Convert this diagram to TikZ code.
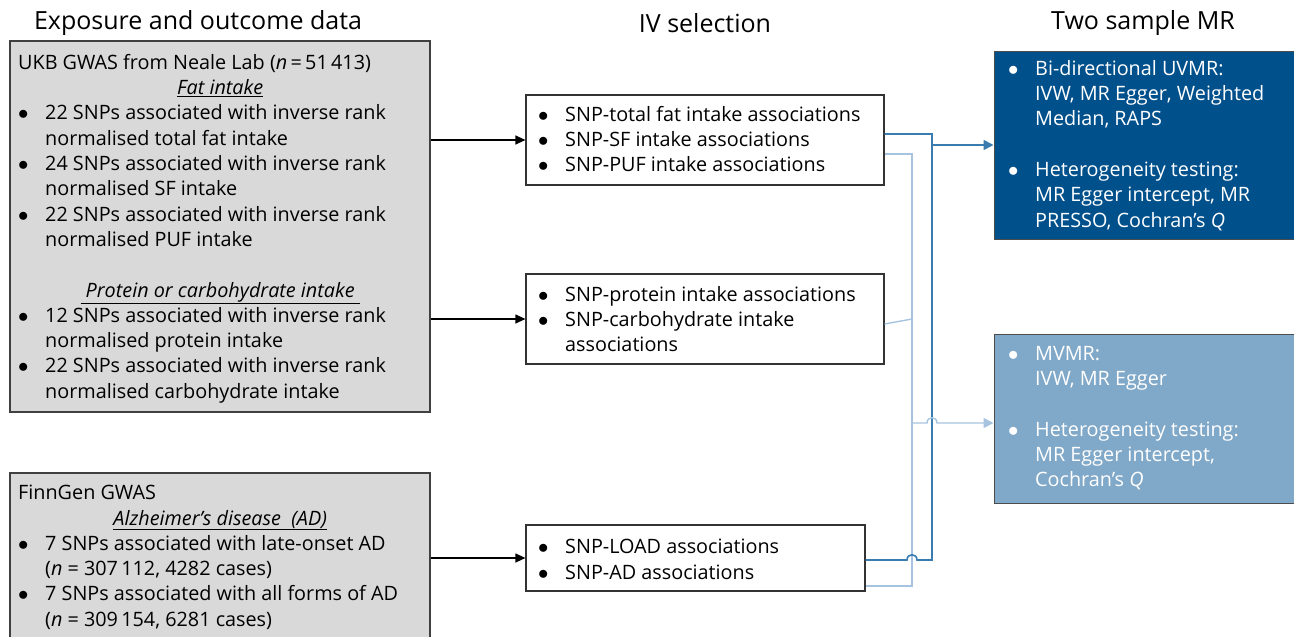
\documentclass[tikz,border=0pt]{standalone}
\usepackage{fontspec}
\setmainfont{Open Sans}
\usetikzlibrary{fit,arrows.meta}
\definecolor{darkmr}{HTML}{00508C}
\definecolor{lightmr}{HTML}{80A8C8}
\definecolor{darkline}{HTML}{3A7BB0}
\definecolor{lightline}{HTML}{A6C4DF}
\definecolor{boxgray}{HTML}{D9D9D9}
\newcommand{\bl}[1]{\makebox[27pt][l]{$\bullet$}#1}
\newcommand{\ct}[1]{\hspace*{27pt}#1}
\newcommand{\hd}[1]{\makebox[404pt][c]{\underline{\textit{#1}}}}
\begin{document}
\begin{tikzpicture}[x=1pt,y=-1pt,
  every node/.style={inner sep=0pt, font=\fontsize{19.8}{25.3}\selectfont},
  databox/.style={draw=black!75, line width=1.3pt, fill=boxgray},
  ivbox/.style={draw=black!80, line width=1.2pt, fill=white},
  mrbox/.style={draw=black!70, line width=1pt},
  txt/.style={anchor=north west, align=left},
  title/.style={font=\fontsize{25}{28}\selectfont},
  feed/.style={line width=1.2pt, -{Triangle[length=10pt,width=9pt]}},
  uvline/.style={draw=darkline, line width=1.6pt},
  mvline/.style={draw=lightline, line width=1.4pt}]
\useasboundingbox (0,0) rectangle (1294,637);
% Draw the column titles
\node[title] (t1) at (198,23) {Exposure and outcome data};
\node[title] (t2) at (705,23) {IV selection};
\node[title] (t3) at (1143,23) {Two sample MR};
% Draw the boxes
\node[databox, fit={(10,41)(430,412)}] (ukb) {};
\node[databox, fit={(10,473)(430,645)}] (finngen) {};
\node[ivbox, fit={(526,95)(884,185)}] (ivfat) {};
\node[ivbox, fit={(526,274)(884,364)}] (ivmacro) {};
\node[ivbox, fit={(526,525)(865,591)}] (ivad) {};
\node[mrbox, fill=darkmr, fit={(994,51)(1300,239)}] (uvmr) {};
\node[mrbox, fill=lightmr, fit={(994,334)(1300,503)}] (mvmr) {};
% Draw the texts
\node[txt] (ukbtext) at (18,54) {UKB GWAS from Neale Lab (\textit{n}\,=\,51\,413)\\
  \hd{Fat intake}\\
  \bl{22 SNPs associated with inverse rank}\\ \ct{normalised total fat intake}\\
  \bl{24 SNPs associated with inverse rank}\\ \ct{normalised SF intake}\\
  \bl{22 SNPs associated with inverse rank}\\ \ct{normalised PUF intake}\\[25.3pt]
  \hd{\ Protein or carbohydrate intake\ }\\
  \bl{12 SNPs associated with inverse rank}\\ \ct{normalised protein intake}\\
  \bl{22 SNPs associated with inverse rank}\\ \ct{normalised carbohydrate intake}};
\node[txt] (fgtext) at (18,485) {FinnGen GWAS\\
  \hd{Alzheimer's disease\ \ (AD)}\\
  \bl{7 SNPs associated with late-onset AD}\\ \ct{(\textit{n} = 307\,112, 4282 cases)}\\
  \bl{7 SNPs associated with all forms of AD}\\ \ct{(\textit{n} = 309\,154, 6281 cases)}};
\node[txt] (ivfattext) at (538,106) {\bl{SNP-total fat intake associations}\\
  \bl{SNP-SF intake associations}\\ \bl{SNP-PUF intake associations}};
\node[txt] (ivmacrotext) at (538,286) {\bl{SNP-protein intake associations}\\
  \bl{SNP-carbohydrate intake}\\ \ct{associations}};
\node[txt] (ivadtext) at (538,539) {\bl{SNP-LOAD associations}\\ \bl{SNP-AD associations}};
\node[txt, text=white] (uvmrtext) at (1008,60) {\bl{Bi-directional UVMR:}\\
  \ct{IVW, MR Egger, Weighted}\\ \ct{Median, RAPS}\\[25.3pt]
  \bl{Heterogeneity testing:}\\ \ct{MR Egger intercept, MR}\\ \ct{PRESSO, Cochran’s \textit{Q}}};
\node[txt, text=white] (mvmrtext) at (1008,346) {\bl{MVMR:}\\ \ct{IVW, MR Egger}\\[25.3pt]
  \bl{Heterogeneity testing:}\\ \ct{MR Egger intercept,}\\ \ct{Cochran’s \textit{Q}}};
% Draw the connectors
\coordinate (dk) at (932,0);
\coordinate (lt) at (912,0);
\draw[feed] (ukb.east |- ivfat.west) -- (ivfat.west);
\draw[feed] (ukb.east |- ivmacro.west) -- (ivmacro.west);
\draw[feed] (finngen.east |- ivad.west) -- (ivad.west);
\draw[mvline] ([yshift=-14pt]ivfat.east) -| (lt |- ivad.east) |- ([yshift=-28pt]ivad.east);
\draw[mvline] ([yshift=-5pt]ivmacro.east) -- (lt |- ivmacro.east);
\draw[uvline] ([yshift=6pt]ivfat.east) -| (dk |- ivad.east) |- (917,560)
  .. controls (917,553) and (907,553) .. (907,560) -- ([yshift=-2pt]ivad.east);
\draw[uvline, -{Triangle[length=10pt,width=10pt]}] (dk |- uvmr.west) -- (uvmr.west);
\draw[mvline, -{Triangle[length=10pt,width=10pt]}] (lt |- 0,423) -- (927,423)
  .. controls (927,416) and (937,416) .. (937,423) -- ([yshift=-4.5pt]mvmr.west);
\end{tikzpicture}
\end{document}
